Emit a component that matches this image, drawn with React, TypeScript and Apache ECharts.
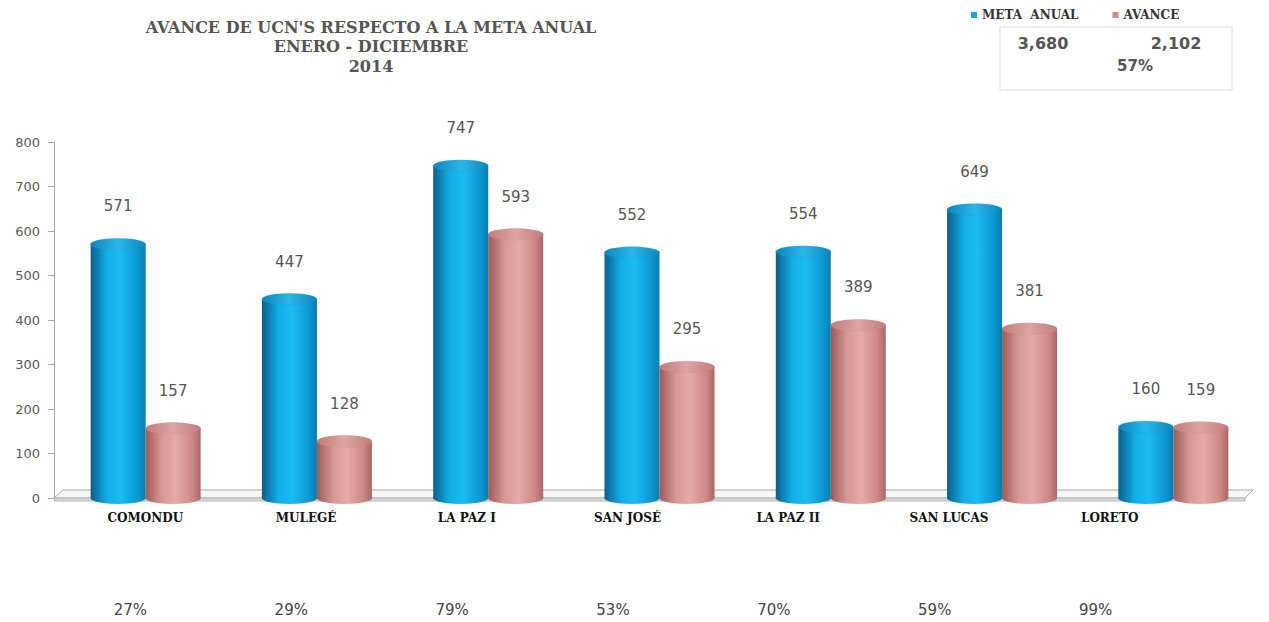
import React, { useEffect, useRef } from "react";
import * as echarts from "echarts";

const categories = ["COMONDU", "MULEGÉ", "LA PAZ I", "SAN JOSÉ", "LA PAZ II", "SAN LUCAS", "LORETO"];
const metaAnual = [571, 447, 747, 552, 554, 649, 160];
const avance = [157, 128, 593, 295, 389, 381, 159];
const yMin = 0;
const yMax = 800;
const yInterval = 100;
const titleLines = ["AVANCE DE UCN'S RESPECTO A LA META ANUAL", "ENERO - DICIEMBRE", "2014"];
const seriesNames = ["META  ANUAL", "AVANCE"];

const fmt = (n: number) => n.toLocaleString("en-US");

export default function App() {
  const ref = useRef<HTMLDivElement>(null);
  useEffect(() => {
    if (!ref.current) return;
    const chart = echarts.init(ref.current, null, { renderer: "svg" });
    const pct = avance.map((a, i) => Math.round((a / metaAnual[i]) * 100) + "%");
    const totalMeta = metaAnual.reduce((s, v) => s + v, 0);
    const totalAv = avance.reduce((s, v) => s + v, 0);
    const totalPct = Math.round((totalAv / totalMeta) * 100) + "%";

    const blueGrad = new echarts.graphic.LinearGradient(0, 0, 1, 0, [
      { offset: 0, color: "#0a5f8c" },
      { offset: 0.3, color: "#12aee8" },
      { offset: 0.55, color: "#1bbbf4" },
      { offset: 0.85, color: "#0c98d2" },
      { offset: 1, color: "#0a7cb0" },
    ]);
    const pinkGrad = new echarts.graphic.LinearGradient(0, 0, 1, 0, [
      { offset: 0, color: "#9c5a58" },
      { offset: 0.3, color: "#d89896" },
      { offset: 0.55, color: "#e6aaa8" },
      { offset: 0.85, color: "#cc8886" },
      { offset: 1, color: "#a86866" },
    ]);
    const blueTop = new echarts.graphic.LinearGradient(0, 0, 1, 0, [
      { offset: 0, color: "#0d86bd" },
      { offset: 0.5, color: "#2ab6ea" },
      { offset: 1, color: "#0d86bd" },
    ]);
    const pinkTop = new echarts.graphic.LinearGradient(0, 0, 1, 0, [
      { offset: 0, color: "#c07c7a" },
      { offset: 0.5, color: "#dea4a2" },
      { offset: 1, color: "#c07c7a" },
    ]);

    const BW = 55;
    const labelStyle = {
      show: true,
      position: "top" as const,
      distance: 30,
      color: "#555",
      fontFamily: "DejaVu Sans",
      fontSize: 15,
    };
    const hiddenCat = (gridIndex: number) => ({
      type: "category",
      data: categories,
      gridIndex,
      axisLine: { show: false },
      axisTick: { show: false },
      axisLabel: { show: false },
    });

    chart.setOption({
      animation: false,
      backgroundColor: "#fff",
      legend: {
        left: 966,
        top: 4,
        icon: "rect",
        itemWidth: 6,
        itemHeight: 6,
        itemGap: 34,
        textStyle: { fontFamily: "DejaVu Serif", fontWeight: "bold", fontSize: 12, color: "#333" },
        data: [
          { name: seriesNames[0], itemStyle: { color: "#12a8e0" } },
          { name: seriesNames[1], itemStyle: { color: "#d08a88" } },
        ],
      },
      grid: [
        { left: 60, right: 10, top: 142, bottom: 124 },
        { left: 65, right: 79, top: 490, height: 10 },
        { left: 50, right: 93, top: 590, height: 10 },
      ],
      xAxis: [
        hiddenCat(0),
        {
          type: "category",
          data: categories,
          gridIndex: 1,
          axisLine: { show: false },
          axisTick: { show: false },
          axisLabel: {
            margin: 12,
            fontFamily: "DejaVu Serif",
            fontWeight: "bold",
            fontSize: 12,
            color: "#111",
          },
        },
        {
          type: "category",
          data: pct,
          gridIndex: 2,
          axisLine: { show: false },
          axisTick: { show: false },
          axisLabel: { margin: 2, fontFamily: "DejaVu Sans", fontSize: 15, color: "#444" },
        },
        hiddenCat(0),
        hiddenCat(0),
      ],
      yAxis: [
        {
          type: "value",
          gridIndex: 0,
          min: yMin,
          max: yMax,
          interval: yInterval,
          offset: 6,
          axisLine: { show: true, lineStyle: { color: "#a8a8a8" } },
          axisTick: { show: true, length: 6, lineStyle: { color: "#a8a8a8" } },
          axisLabel: { margin: 14, fontFamily: "DejaVu Sans", fontSize: 13, color: "#595959" },
          splitLine: { show: false },
        },
        { type: "value", gridIndex: 1, show: false },
        { type: "value", gridIndex: 2, show: false },
      ],
      series: [
        {
          name: seriesNames[0],
          type: "bar",
          data: metaAnual,
          barWidth: BW,
          barGap: "0%",
          z: 2,
          itemStyle: { color: blueGrad },
          label: labelStyle,
        },
        {
          name: seriesNames[1],
          type: "bar",
          data: avance,
          barWidth: BW,
          barGap: "0%",
          z: 2,
          itemStyle: { color: pinkGrad },
          label: labelStyle,
        },
        {
          name: seriesNames[0],
          type: "pictorialBar",
          xAxisIndex: 3,
          data: metaAnual,
          symbol: "circle",
          symbolSize: [BW, 12],
          symbolPosition: "end",
          symbolOffset: [0, "-50%"],
          barWidth: BW,
          barGap: "0%",
          z: 4,
          itemStyle: { color: blueTop, borderColor: "#0b7fb4", borderWidth: 1 },
        },
        {
          name: seriesNames[1],
          type: "pictorialBar",
          xAxisIndex: 3,
          data: avance,
          symbol: "circle",
          symbolSize: [BW, 12],
          symbolPosition: "end",
          symbolOffset: [0, "-50%"],
          barWidth: BW,
          barGap: "0%",
          z: 4,
          itemStyle: { color: pinkTop, borderColor: "#b47674", borderWidth: 1 },
        },
        {
          name: seriesNames[0],
          type: "pictorialBar",
          xAxisIndex: 4,
          data: metaAnual,
          symbol: "circle",
          symbolSize: [BW, 12],
          symbolPosition: "start",
          symbolOffset: [0, "50%"],
          barWidth: BW,
          barGap: "0%",
          z: 1,
          itemStyle: { color: blueGrad },
        },
        {
          name: seriesNames[1],
          type: "pictorialBar",
          xAxisIndex: 4,
          data: avance,
          symbol: "circle",
          symbolSize: [BW, 12],
          symbolPosition: "start",
          symbolOffset: [0, "50%"],
          barWidth: BW,
          barGap: "0%",
          z: 1,
          itemStyle: { color: pinkGrad },
        },
      ],
      graphic: [
        {
          type: "polygon",
          z: 0,
          shape: { points: [[54, 498], [63, 490], [1253, 490], [1245, 498]] },
          style: { fill: "#f7f7f7", stroke: "#a8a8a8", lineWidth: 1 },
        },
        {
          type: "polygon",
          z: 0,
          shape: { points: [[54, 498], [1245, 498], [1245, 501], [54, 501]] },
          style: { fill: "#d8d8d8", stroke: "#b8b8b8", lineWidth: 1 },
        },
        {
          type: "rect",
          shape: { x: 1000, y: 27, width: 232, height: 63 },
          style: { fill: "#fff", stroke: "#dcdcdc", lineWidth: 1 },
        },
        {
          type: "text",
          x: 1043,
          y: 43,
          style: {
            text: fmt(totalMeta),
            fill: "#555",
            font: "bold 16px 'DejaVu Sans'",
            textAlign: "center",
            textVerticalAlign: "middle",
          },
        },
        {
          type: "text",
          x: 1176,
          y: 43,
          style: {
            text: fmt(totalAv),
            fill: "#555",
            font: "bold 16px 'DejaVu Sans'",
            textAlign: "center",
            textVerticalAlign: "middle",
          },
        },
        {
          type: "text",
          x: 1135,
          y: 66,
          style: {
            text: totalPct,
            fill: "#555",
            font: "bold 15px 'DejaVu Sans'",
            textAlign: "center",
            textVerticalAlign: "middle",
          },
        },
        ...titleLines.map((t, i) => ({
          type: "text",
          x: 371,
          y: 27 + i * 19.5,
          style: {
            text: t,
            fill: "#555",
            font: "bold 16px 'DejaVu Serif'",
            textAlign: "center",
            textVerticalAlign: "middle",
          },
        })),
      ],
    });
    return () => chart.dispose();
  }, []);
  return <div ref={ref} style={{ position: "fixed", left: 0, top: 0, width: 1269, height: 622 }} />;
}
